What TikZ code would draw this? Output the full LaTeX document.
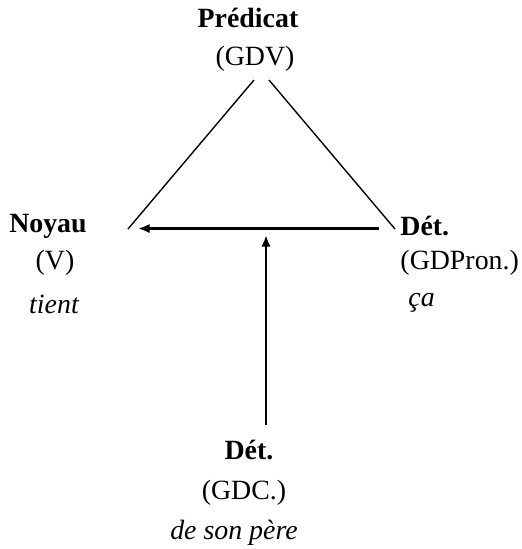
\documentclass[tikz,border=0pt]{standalone}
\usepackage{fontspec}
\setmainfont{Liberation Serif}
\usetikzlibrary{arrows.meta}
\begin{document}
\begin{tikzpicture}[>={Latex[length=5pt, width=4pt]}, scale=1.0]
	
	% Styles des étiquettes et des traits
	\tikzset{
		headLabel/.style={inner sep=0pt, font=\fontsize{12}{14}\selectfont\bfseries},
		catLabel/.style={inner sep=0pt, font=\fontsize{12}{14}\selectfont},
		wordLabel/.style={inner sep=0pt, font=\fontsize{12}{14}\selectfont\itshape},
		treeLine/.style={line width=0.6pt},
		linkArrow/.style={->, line width=1pt}
	}
	
	% Cadre de l'image
	\useasboundingbox (0,0) rectangle (7.9,8.309);
	
	% Sommet : le prédicat
	\node[headLabel] (pred) at (3.753, 8.036) {Prédicat};
	\node[catLabel] (predCat) at (3.859, 7.416) {(GDV)};
	
	% Coin gauche : le noyau
	\node[headLabel] (noyau) at (0.726, 4.888) {Noyau};
	\node[catLabel] (noyauCat) at (0.832, 4.328) {(V)};
	\node[wordLabel] (noyauMot) at (0.817, 3.708) {tient};
	
	% Coin droit : le déterminant pronominal
	\node[headLabel, anchor=west] (detPron) at (6.054, 4.888) {Dét.};
	\node[catLabel, anchor=west] (detPronCat) at (6.054, 4.328) {(GDPron.)};
	\node[wordLabel, anchor=west] (detPronMot) at (6.175, 3.723) {ça};
	
	% En bas : le déterminant complément
	\node[headLabel] (detComp) at (3.768, 1.498) {Dét.};
	\node[catLabel] (detCompCat) at (3.693, 0.847) {(GDC.)};
	\node[wordLabel] (detCompMot) at (3.541, 0.242) {de son père};
	
	% Extrémités des traits du triangle
	\coordinate (hautG) at (3.844, 7.098);
	\coordinate (hautD) at (4.071, 7.098);
	\coordinate (basG) at (1.937, 4.843);
	\coordinate (basD) at (5.978, 4.843);
	
	% Extrémités des flèches
	\coordinate (flecheD) at (5.736, 4.85);
	\coordinate (flecheG) at (2.088, 4.85);
	\coordinate (flecheBas) at (4.026, 1.877);
	\coordinate (flecheHaut) at (4.026, 4.752);
	
	% Les deux côtés du triangle
	\draw[treeLine] (hautG) -- (basG);
	\draw[treeLine] (hautD) -- (basD);
	
	% Les flèches de dépendance
	\draw[linkArrow] (flecheD) -- (flecheG);
	\draw[linkArrow] (flecheBas) -- (flecheHaut);
	
\end{tikzpicture}
\end{document}
